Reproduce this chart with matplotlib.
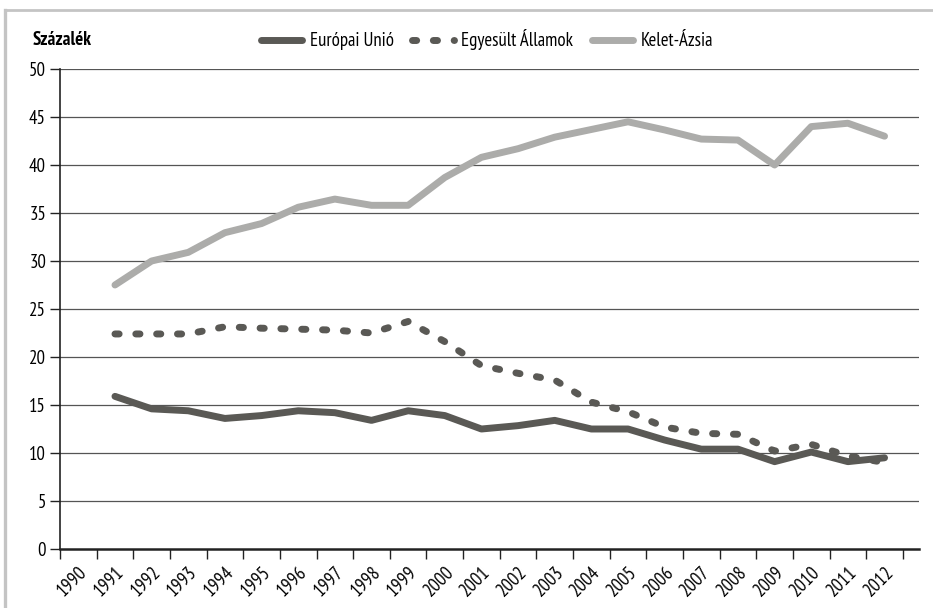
import matplotlib
matplotlib.use("Agg")
import matplotlib.pyplot as plt
from matplotlib.lines import Line2D

plt.rcParams['font.family'] = ['PT Sans Narrow', 'DejaVu Sans']
plt.rcParams['font.stretch'] = 'condensed'

years = [str(y) for y in range(1990, 2013)]
data_years = list(range(1991, 2013))

eu = [15.9, 14.6, 14.4, 13.6, 13.9, 14.4, 14.2, 13.4, 14.4, 13.9, 12.5,
      12.85, 13.4, 12.5, 12.5, 11.35, 10.4, 10.4, 9.1, 10.1, 9.1, 9.5]
us = [22.4, 22.4, 22.4, 23.15, 23.0, 22.9, 22.8, 22.5, 23.7, 21.6, 19.1,
      18.3, 17.6, 15.3, 14.3, 12.7, 12.05, 11.95, 10.2, 10.9, 9.7, 9.0]
ea = [27.5, 30.0, 30.9, 32.95, 33.9, 35.6, 36.45, 35.8, 35.8, 38.7, 40.8,
      41.7, 42.9, 43.7, 44.5, 43.65, 42.7, 42.6, 40.0, 44.0, 44.35, 43.0]

c_dark = '#5a5955'
c_light = '#acacaa'
dots = (0, (0.6, 2.4))

W, H = 933, 608
fig = plt.figure(figsize=(W / 100, H / 100), dpi=100)
ax = fig.add_axes([60 / W, (H - 549) / H, (919 - 60) / W, (549 - 69) / H])

# category positions: 1990 -> 0
xpos = [y - 1990 for y in data_years]

ax.plot(xpos, ea, color=c_light, lw=5, solid_capstyle='round', solid_joinstyle='round', zorder=3)
ax.plot(xpos, us, color=c_dark, lw=5, linestyle=dots, dash_capstyle='round', zorder=3)
ax.plot(xpos, eu, color=c_dark, lw=5, solid_capstyle='round', solid_joinstyle='round', zorder=4)

ax.set_ylim(0, 50)
ax.set_yticks(range(0, 51, 5))
ax.set_xlim(-0.5, 22.94)
ax.set_xticks([i - 0.5 for i in range(len(years) + 1)])
ax.set_xticklabels([])
ax.set_xticks(range(len(years)), minor=True)
ax.set_xticklabels(years, minor=True, rotation=45, ha='right', va='top',
                   rotation_mode='anchor', fontsize=13.5)
ax.tick_params(axis='x', which='minor', length=0, pad=10)
ax.tick_params(axis='x', which='major', length=7, width=1, color='#222222')
ax.tick_params(axis='y', length=7, width=1, color='#222222', labelsize=13.5, pad=3)

for v in range(5, 51, 5):
    ax.axhline(v, color='#555555', lw=0.9, zorder=1)

for s in ['top', 'right']:
    ax.spines[s].set_visible(False)
ax.spines['left'].set_color('#222222')
ax.spines['left'].set_linewidth(1.2)
ax.spines['bottom'].set_color('#222222')
ax.spines['bottom'].set_linewidth(1.8)

fig.text(33 / W, 1 - 40 / H, 'Százalék', fontsize=13.5, fontweight='bold', va='center', ha='left')

handles = [
    Line2D([], [], color=c_dark, lw=5, solid_capstyle='round'),
    Line2D([], [], color=c_dark, lw=5, linestyle=dots, dash_capstyle='round'),
    Line2D([], [], color=c_light, lw=5, solid_capstyle='round'),
]
fig.legend(handles, ['Európai Unió', 'Egyesült Államok', 'Kelet-Ázsia'], loc='center',
           bbox_to_anchor=(487 / W, 1 - 40 / H), ncol=3, frameon=False, fontsize=13.5,
           handlelength=2.2, handletextpad=0.4, columnspacing=1.0)

# partial frame (top and left)
fig.add_artist(Line2D([5 / W, 1], [1 - 10 / H, 1 - 10 / H], color='#c4c4c4', lw=2, transform=fig.transFigure))
fig.add_artist(Line2D([5 / W, 5 / W], [0, 1 - 10 / H], color='#c4c4c4', lw=2.4, transform=fig.transFigure))

fig.savefig('out.png', dpi=100)
